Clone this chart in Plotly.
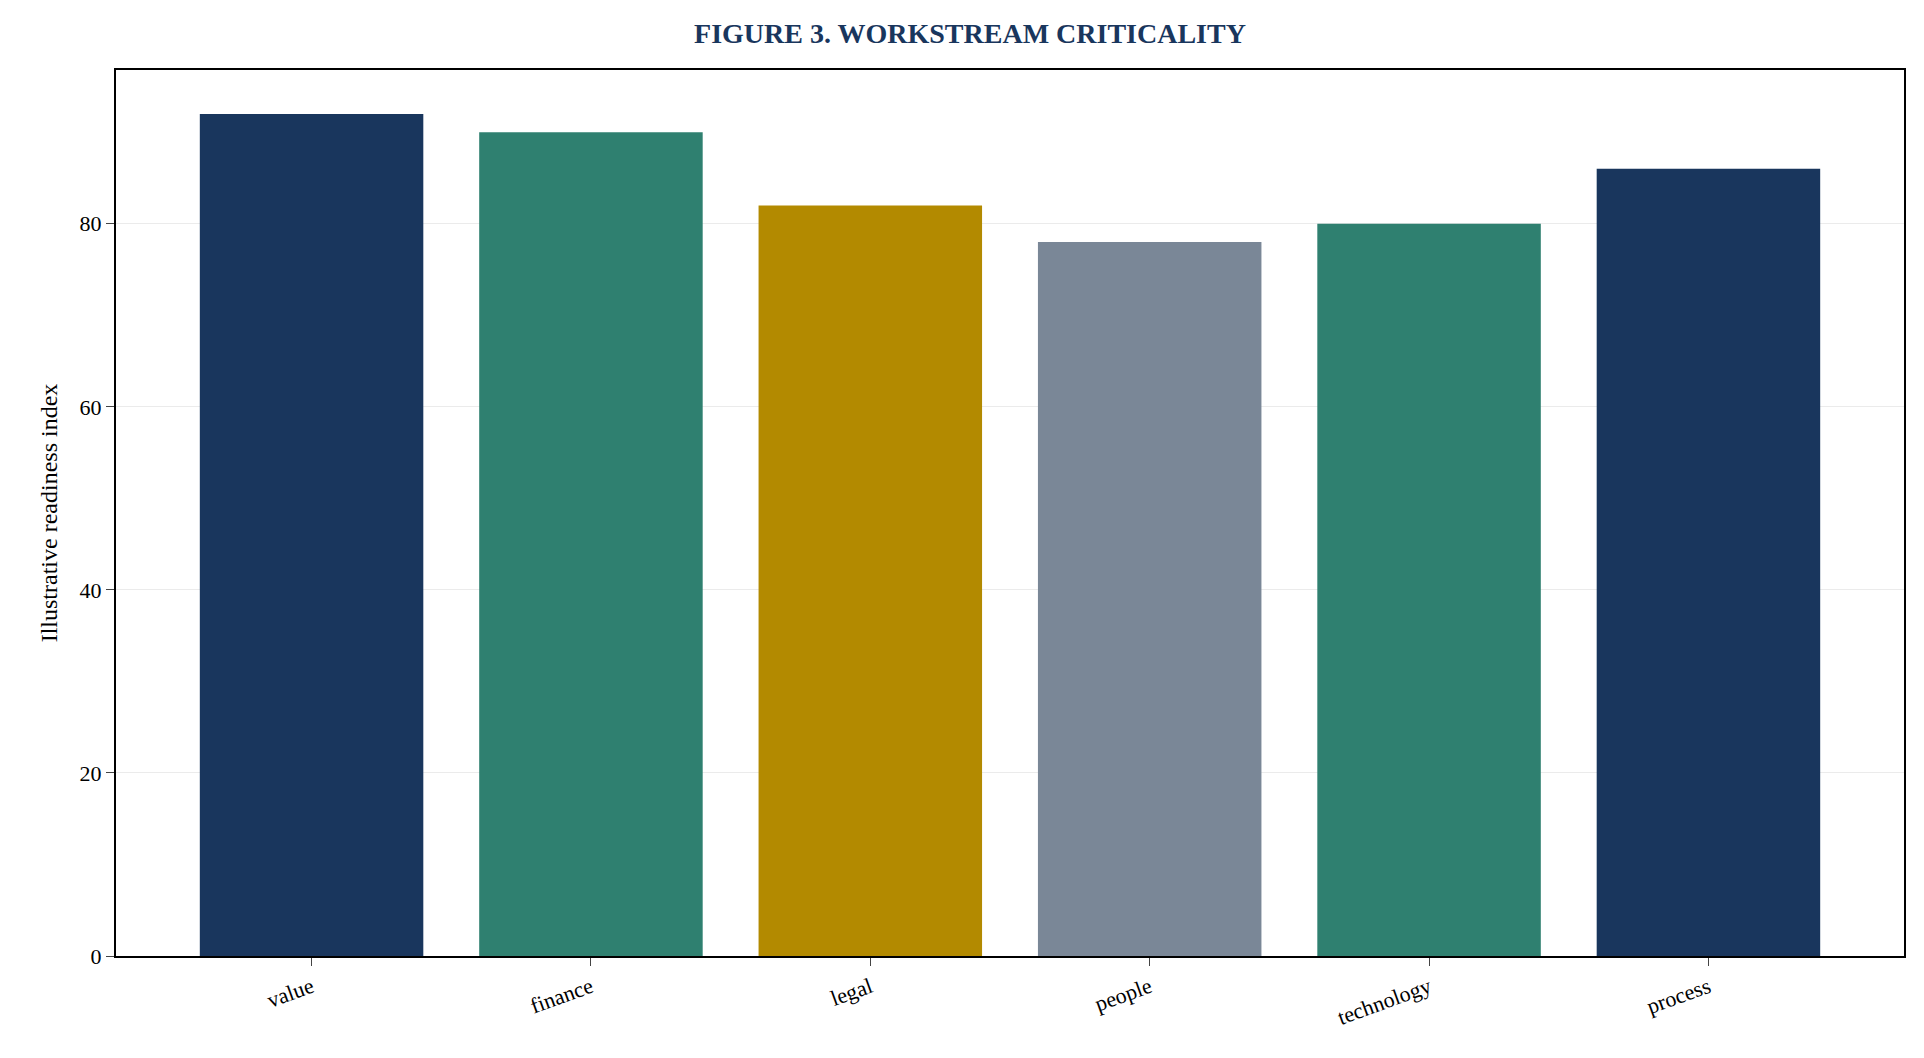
import plotly.graph_objects as go

categories = ["value", "finance", "legal", "people", "technology", "process"]
values = [92, 90, 82, 78, 80, 86]
colors = ["#19365d", "#2f8070", "#b38a00", "#7a8797", "#2f8070", "#19365d"]

fig = go.Figure(
    go.Bar(x=categories, y=values, marker=dict(color=colors, line=dict(width=0)), width=0.8)
)

fig.update_layout(
    width=1924,
    height=1058,
    paper_bgcolor="white",
    plot_bgcolor="white",
    font=dict(family="Liberation Serif", size=22, color="black"),
    title=dict(
        text="<b>FIGURE 3. WORKSTREAM CRITICALITY</b>",
        x=0.5,
        xanchor="center",
        y=0.985,
        yanchor="top",
        font=dict(size=28, color="#19365d"),
    ),
    margin=dict(l=108, r=28, t=62, b=110),
    showlegend=False,
    bargap=0.2,
)
fig.update_xaxes(
    showline=True, linecolor="black", linewidth=2, mirror=True,
    ticks="outside", ticklen=8, tickangle=-20, range=[-0.7, 5.7],
)
fig.update_yaxes(
    title=dict(text="Illustrative readiness index", font=dict(size=24)),
    range=[0, 96.8], tickvals=[0, 20, 40, 60, 80],
    showline=True, linecolor="black", linewidth=2, mirror=True,
    ticks="outside", ticklen=8, showgrid=True, gridcolor="#ebebeb", zeroline=False,
)

fig.write_html("out.html")
